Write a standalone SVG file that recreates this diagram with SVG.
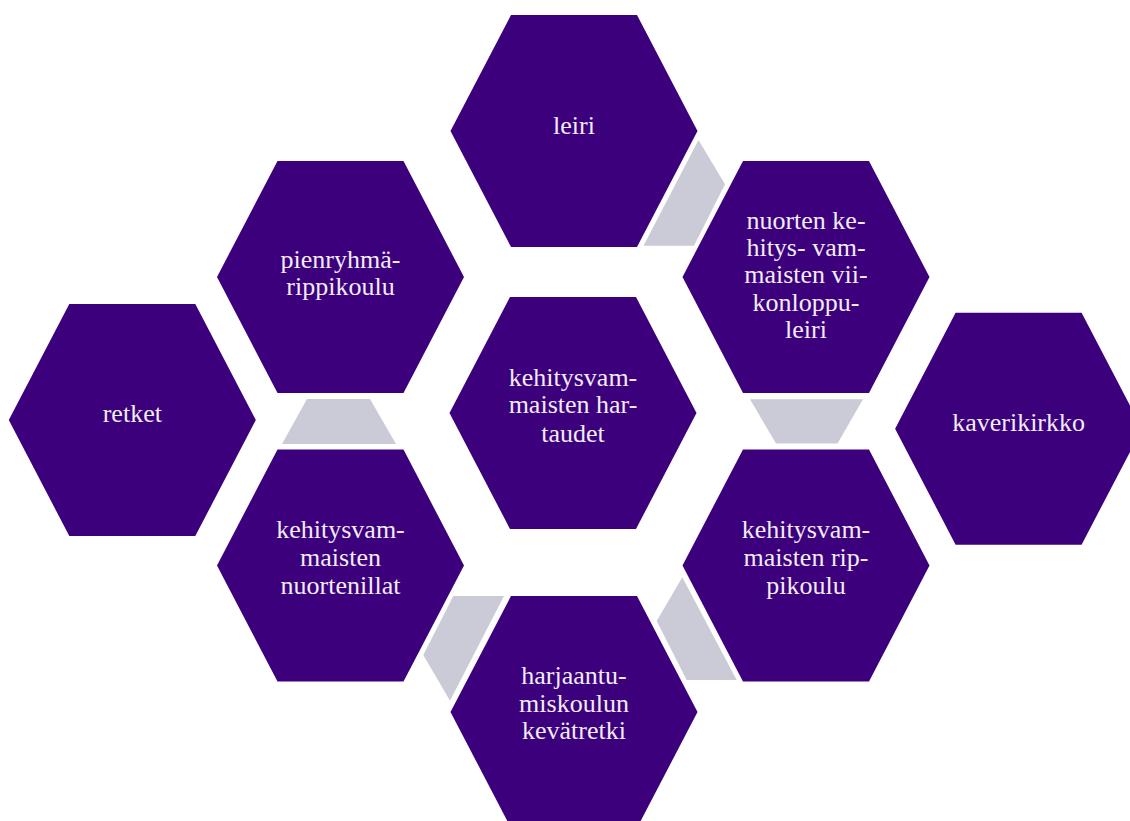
<svg xmlns="http://www.w3.org/2000/svg" width="1130" height="821" viewBox="0 0 1130 821">
<defs>
<style>
.hex{fill:#3C007C;}
.link{fill:#CBCBD8;}
.t{font-family:'Liberation Serif','Times New Roman',serif;font-size:26px;fill:#F1ECF6;text-anchor:middle;}
</style>
<polygon id="hx" points="-63,-116 63,-116 123.5,0 63,116 -63,116 -123.5,0"/>
</defs>
<rect width="1130" height="821" fill="#FFFFFF"/>
<g id="connectors">
<polygon class="link" points="698.5,140 725,184.3 694,245.7 643.5,245.7"/>
<polygon class="link" points="307,399 370,399 396,444 282,444"/>
<polygon class="link" points="750,399.3 863,399.3 837.5,443.5 776,443.5"/>
<polygon class="link" points="682.3,577.3 736.7,680 686.7,680 656.7,621"/>
<polygon class="link" points="453.3,596 504,596 450,700.7 423.3,655"/>
</g>
<g id="node-leiri">
<use href="#hx" class="hex" x="574" y="131"/>
<text class="t" x="574" y="134">leiri</text>
</g>
<g id="node-pienryhma">
<use href="#hx" class="hex" x="340.5" y="277"/>
<text class="t" x="340.5" y="268">pienryhmä-</text>
<text class="t" x="340.5" y="295">rippikoulu</text>
</g>
<g id="node-nuorten">
<use href="#hx" class="hex" x="806" y="277"/>
<text class="t" x="806" y="229">nuorten ke-</text>
<text class="t" x="806" y="256">hitys- vam-</text>
<text class="t" x="806" y="283.3">maisten vii-</text>
<text class="t" x="806" y="310.5">konloppu-</text>
<text class="t" x="806" y="338">leiri</text>
</g>
<g id="node-retket">
<use href="#hx" class="hex" x="132.3" y="420"/>
<text class="t" x="132.3" y="421.7">retket</text>
</g>
<g id="node-hartaudet">
<use href="#hx" class="hex" x="573" y="413"/>
<text class="t" x="573" y="385.7">kehitysvam-</text>
<text class="t" x="573" y="413.3">maisten har-</text>
<text class="t" x="573" y="442">taudet</text>
</g>
<g id="node-kaverikirkko">
<use href="#hx" class="hex" x="1018.6" y="428.7"/>
<text class="t" x="1018.6" y="430.7">kaverikirkko</text>
</g>
<g id="node-nuortenillat">
<use href="#hx" class="hex" x="340.5" y="565.5"/>
<text class="t" x="340.5" y="538.3">kehitysvam-</text>
<text class="t" x="340.5" y="566">maisten</text>
<text class="t" x="340.5" y="594">nuortenillat</text>
</g>
<g id="node-rippikoulu">
<use href="#hx" class="hex" x="806" y="565.5"/>
<text class="t" x="806" y="538.3">kehitysvam-</text>
<text class="t" x="806" y="566">maisten rip-</text>
<text class="t" x="806" y="594">pikoulu</text>
</g>
<g id="node-harjaantu">
<use href="#hx" class="hex" x="574" y="712"/>
<text class="t" x="574" y="684">harjaantu-</text>
<text class="t" x="574" y="711.7">miskoulun</text>
<text class="t" x="574" y="739.3">kevätretki</text>
</g>
</svg>
